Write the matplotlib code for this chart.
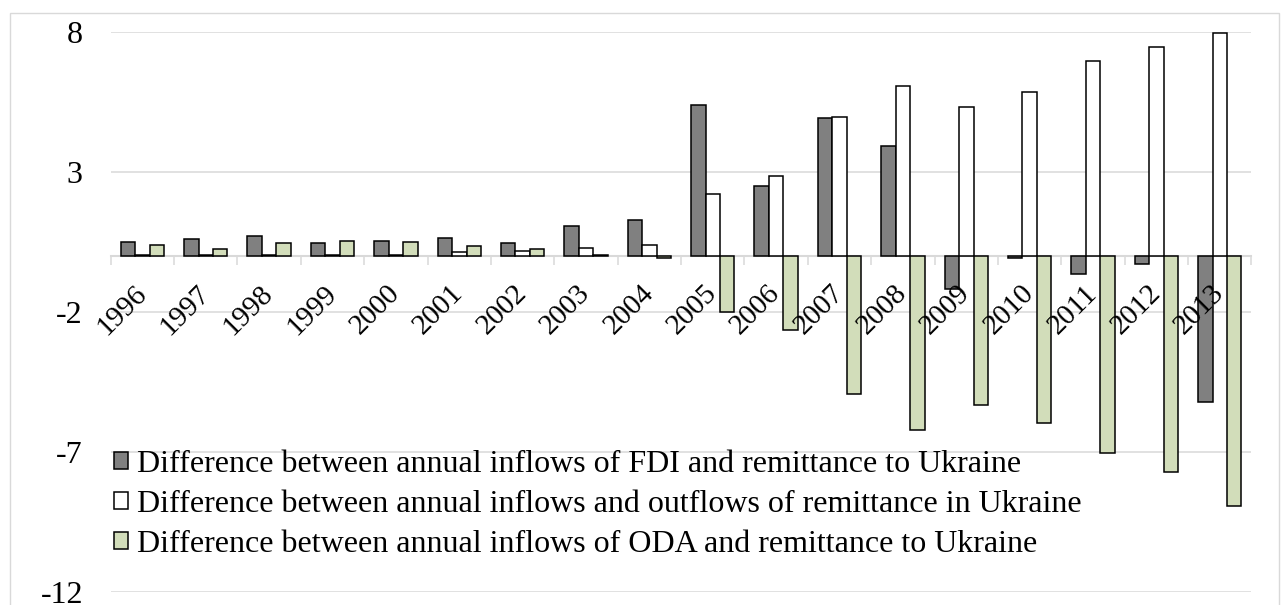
import matplotlib
matplotlib.use("Agg")
import matplotlib.pyplot as plt
import numpy as np
from matplotlib.patches import Rectangle

years = ["1996", "1997", "1998", "1999", "2000", "2001", "2002", "2003", "2004",
         "2005", "2006", "2007", "2008", "2009", "2010", "2011", "2012", "2013"]
fdi_minus_rem = [0.50, 0.60, 0.72, 0.46, 0.55, 0.63, 0.47, 1.08, 1.30,
                 5.40, 2.50, 4.92, 3.93, -1.18, -0.07, -0.64, -0.30, -5.20]
rem_in_minus_out = [0.04, 0.04, 0.04, 0.04, 0.05, 0.13, 0.19, 0.30, 0.39,
                    2.20, 2.85, 4.95, 6.07, 5.33, 5.85, 6.98, 7.45, 7.96]
oda_minus_rem = [0.38, 0.25, 0.45, 0.54, 0.50, 0.37, 0.25, 0.02, -0.07,
                 -2.01, -2.65, -4.92, -6.21, -5.31, -5.95, -7.05, -7.71, -8.93]
labels = ["Difference between annual inflows of FDI and remittance to Ukraine",
          "Difference between annual inflows and outflows of remittance in Ukraine",
          "Difference between annual inflows of ODA and remittance to Ukraine"]
yticks = [8, 3, -2, -7, -12]

plt.rcParams['font.family'] = ['Liberation Serif', 'DejaVu Serif']
FS = 23
XFS = 21
GRID = '#d9d9d9'

W, H = 1282, 605
fig = plt.figure(figsize=(W / 100, H / 100), dpi=100)
ax = fig.add_axes([110.7 / W, 1 - 592 / H, (1251.5 - 110.7) / W, (592 - 32) / H])

x = np.arange(len(years))
w = 0.228
ax.bar(x - w, fdi_minus_rem, w, color='#808080', edgecolor='black', linewidth=1.1, label=labels[0], zorder=3)
ax.bar(x, rem_in_minus_out, w, color='white', edgecolor='black', linewidth=1.1, label=labels[1], zorder=3)
ax.bar(x + w, oda_minus_rem, w, color='#d2ddba', edgecolor='black', linewidth=1.1, label=labels[2], zorder=3)

ax.set_xlim(-0.5, len(years) - 0.5)
ax.set_ylim(-12, 8)
ax.set_yticks(yticks)
ax.set_yticklabels([str(v) for v in yticks], fontsize=FS)
ax.tick_params(axis='y', length=0, pad=20)
ax.yaxis.grid(True, color=GRID, linewidth=1.1, zorder=0)
ax.set_axisbelow(True)

for s in ['top', 'right', 'left']:
    ax.spines[s].set_visible(False)
ax.spines['bottom'].set_position(('data', 0))
ax.spines['bottom'].set_color(GRID)
ax.spines['bottom'].set_linewidth(1.5)
ax.spines['bottom'].set_zorder(2)

ax.set_xticks(x)
ax.set_xticklabels(years, fontsize=XFS, rotation=45, ha='right', va='center',
                   rotation_mode='anchor')
ax.tick_params(axis='x', which='major', length=0, pad=24)
ax.set_xticks(np.arange(-0.5, len(years), 1.0), minor=True)
ax.tick_params(axis='x', which='minor', length=6.5, width=1.1, color=GRID, direction='out')
ax.xaxis.set_zorder(5)

leg = ax.legend(loc='center left', bbox_to_anchor=(0.0, 0.157), frameon=False,
                fontsize=FS, handlelength=0.44, handleheight=0.44, handletextpad=0.28,
                labelspacing=0.345, borderpad=0, borderaxespad=0.1)

fig.patches.append(Rectangle((10 / W, -0.05), (1279 - 10) / W, 1 - 13 / H + 0.05,
                             transform=fig.transFigure, fill=False, edgecolor=GRID,
                             linewidth=1.0))

fig.savefig('out.png', dpi=100)
